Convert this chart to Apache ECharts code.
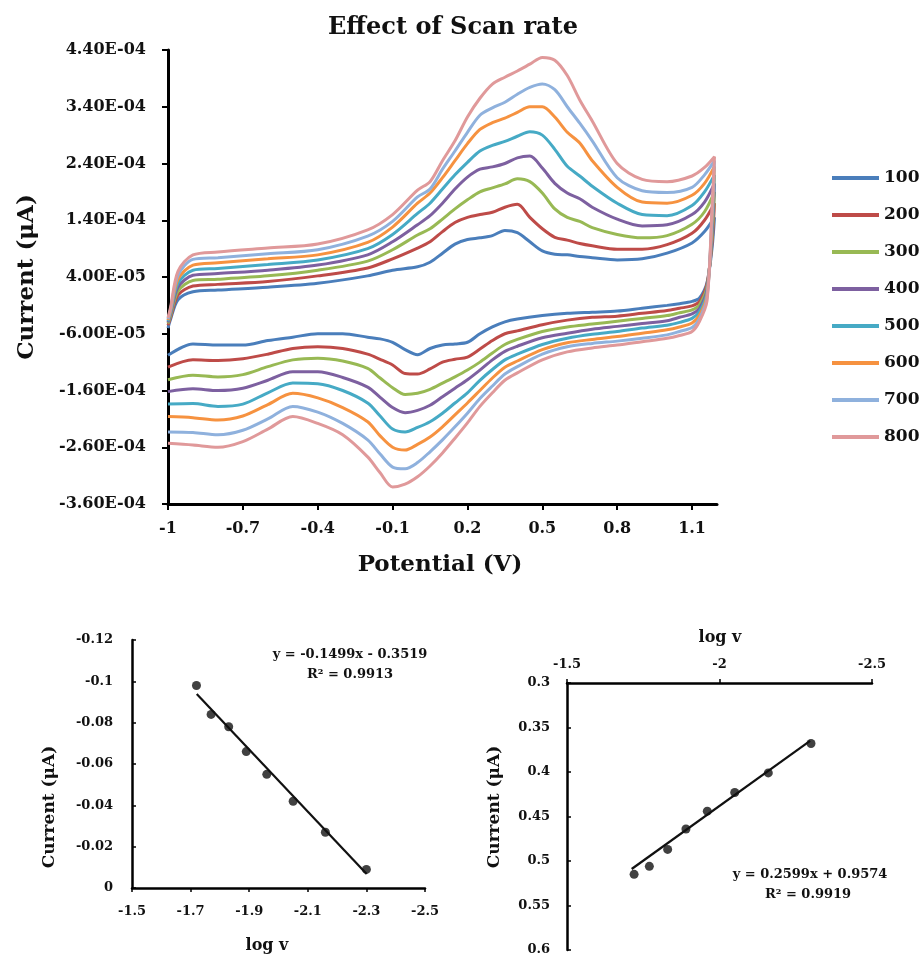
<!DOCTYPE html>
<html>
<head>
<meta charset="utf-8">
<script src="https://cdn.jsdelivr.net/npm/echarts@6/dist/echarts.min.js"></script>
<style>html,body{margin:0;padding:0;background:#fff}#c{width:920px;height:957px}</style>
</head>
<body>
<div id="c"></div>
<script>
// ---------- Main CV chart data (current in units of 1e-4 A) ----------
const scanRates = ['100', '200', '300', '400', '500', '600', '700', '800'];
const potentialForward = [-1, -0.99, -0.96, -0.9, -0.8, -0.6, -0.4, -0.2, -0.1, 0, 0.05, 0.1, 0.15, 0.2, 0.25, 0.3, 0.35, 0.4, 0.45, 0.5, 0.55, 0.6, 0.65, 0.7, 0.8, 0.9, 1.0, 1.1, 1.15, 1.19];
const potentialReverse = [1.18, 1.16, 1.13, 1.1, 1.05, 1.0, 0.9, 0.8, 0.7, 0.6, 0.5, 0.4, 0.35, 0.3, 0.25, 0.2, 0.15, 0.1, 0.05, 0, -0.05, -0.1, -0.15, -0.2, -0.3, -0.4, -0.5, -0.6, -0.7, -0.8, -0.9, -1];

const fwd100 = [-0.5, -0.35, 0.0, 0.14, 0.17, 0.22, 0.29, 0.42, 0.52, 0.58, 0.66, 0.82, 0.98, 1.06, 1.09, 1.13, 1.22, 1.18, 1.02, 0.86, 0.80, 0.79, 0.76, 0.74, 0.70, 0.72, 0.82, 1.0, 1.2, 1.45];
const fwd200 = [-0.45, -0.32, 0.08, 0.24, 0.27, 0.32, 0.42, 0.56, 0.72, 0.91, 1.02, 1.2, 1.36, 1.45, 1.50, 1.54, 1.63, 1.68, 1.45, 1.25, 1.10, 1.05, 0.99, 0.95, 0.89, 0.89, 0.97, 1.17, 1.40, 1.7];
const fwd300 = [-0.42, -0.29, 0.15, 0.34, 0.36, 0.42, 0.52, 0.68, 0.88, 1.14, 1.25, 1.42, 1.60, 1.76, 1.90, 1.97, 2.04, 2.13, 2.08, 1.88, 1.60, 1.45, 1.38, 1.27, 1.15, 1.09, 1.13, 1.33, 1.55, 1.9];
const fwd400 = [-0.4, -0.26, 0.22, 0.43, 0.46, 0.52, 0.61, 0.79, 1.02, 1.32, 1.48, 1.70, 1.95, 2.16, 2.30, 2.34, 2.40, 2.50, 2.53, 2.32, 2.05, 1.88, 1.78, 1.63, 1.42, 1.30, 1.32, 1.50, 1.72, 2.05];
const fwd500 = [-0.38, -0.23, 0.29, 0.52, 0.55, 0.62, 0.70, 0.90, 1.15, 1.52, 1.70, 1.95, 2.20, 2.42, 2.62, 2.72, 2.79, 2.88, 2.96, 2.90, 2.65, 2.35, 2.18, 2.0, 1.70, 1.50, 1.48, 1.66, 1.90, 2.2];
const fwd600 = [-0.36, -0.2, 0.36, 0.61, 0.65, 0.72, 0.79, 1.01, 1.28, 1.70, 1.88, 2.15, 2.45, 2.75, 3.0, 3.12, 3.20, 3.30, 3.40, 3.40, 3.22, 2.95, 2.76, 2.45, 1.98, 1.72, 1.70, 1.84, 2.05, 2.35];
const fwd700 = [-0.34, -0.17, 0.43, 0.71, 0.74, 0.81, 0.88, 1.12, 1.38, 1.81, 1.95, 2.30, 2.62, 2.95, 3.25, 3.38, 3.48, 3.62, 3.74, 3.80, 3.70, 3.40, 3.11, 2.80, 2.15, 1.92, 1.89, 1.98, 2.2, 2.45];
const fwd800 = [-0.32, -0.14, 0.5, 0.79, 0.84, 0.91, 0.98, 1.23, 1.50, 1.93, 2.08, 2.45, 2.80, 3.22, 3.55, 3.80, 3.92, 4.03, 4.15, 4.27, 4.22, 3.95, 3.52, 3.15, 2.40, 2.12, 2.08, 2.18, 2.33, 2.52];

const rev100 = [0.9, 0.3, 0.03, -0.03, -0.07, -0.10, -0.15, -0.20, -0.22, -0.24, -0.28, -0.34, -0.39, -0.48, -0.60, -0.75, -0.78, -0.80, -0.86, -0.97, -0.88, -0.75, -0.69, -0.66, -0.60, -0.60, -0.66, -0.72, -0.80, -0.80, -0.78, -0.98];
const rev200 = [1.0, 0.28, -0.03, -0.11, -0.15, -0.19, -0.24, -0.29, -0.31, -0.36, -0.44, -0.55, -0.60, -0.72, -0.87, -1.01, -1.05, -1.10, -1.22, -1.31, -1.30, -1.15, -1.05, -0.96, -0.86, -0.83, -0.86, -0.96, -1.04, -1.07, -1.06, -1.19];
const rev300 = [1.1, 0.23, -0.09, -0.18, -0.23, -0.28, -0.33, -0.38, -0.43, -0.48, -0.56, -0.70, -0.79, -0.94, -1.10, -1.24, -1.36, -1.47, -1.58, -1.65, -1.67, -1.55, -1.38, -1.21, -1.08, -1.03, -1.06, -1.18, -1.32, -1.36, -1.33, -1.41];
const rev400 = [1.2, 0.18, -0.15, -0.25, -0.31, -0.37, -0.42, -0.47, -0.52, -0.59, -0.67, -0.82, -0.91, -1.06, -1.24, -1.41, -1.56, -1.71, -1.86, -1.95, -1.99, -1.90, -1.72, -1.54, -1.37, -1.27, -1.27, -1.42, -1.56, -1.60, -1.57, -1.62];
const rev500 = [1.3, 0.13, -0.21, -0.33, -0.40, -0.45, -0.50, -0.56, -0.61, -0.68, -0.79, -0.96, -1.06, -1.23, -1.42, -1.64, -1.82, -2.0, -2.15, -2.25, -2.33, -2.28, -2.05, -1.82, -1.60, -1.48, -1.47, -1.64, -1.84, -1.88, -1.83, -1.84];
const rev600 = [1.4, 0.08, -0.27, -0.41, -0.48, -0.53, -0.59, -0.65, -0.70, -0.76, -0.88, -1.08, -1.19, -1.38, -1.60, -1.82, -2.03, -2.24, -2.42, -2.55, -2.65, -2.60, -2.40, -2.15, -1.90, -1.73, -1.65, -1.85, -2.05, -2.12, -2.08, -2.06];
const rev700 = [1.5, 0.03, -0.33, -0.49, -0.56, -0.62, -0.68, -0.73, -0.77, -0.83, -0.96, -1.18, -1.31, -1.52, -1.74, -2.0, -2.24, -2.47, -2.68, -2.87, -2.98, -2.95, -2.72, -2.47, -2.18, -1.98, -1.88, -2.10, -2.30, -2.38, -2.34, -2.33];
const rev800 = [1.6, -0.02, -0.38, -0.56, -0.63, -0.68, -0.74, -0.80, -0.85, -0.92, -1.06, -1.29, -1.42, -1.64, -1.88, -2.17, -2.44, -2.70, -2.93, -3.12, -3.25, -3.30, -3.05, -2.77, -2.38, -2.18, -2.06, -2.28, -2.50, -2.60, -2.56, -2.53];

const mainXTicks = [-1, -0.7, -0.4, -0.1, 0.2, 0.5, 0.8, 1.1];
const mainYTicks = [-3.6, -2.6, -1.6, -0.6, 0.4, 1.4, 2.4, 3.4, 4.4];

// ---------- Bottom-left plot data ----------
const logvLeft = [-1.72, -1.77, -1.83, -1.89, -1.96, -2.05, -2.16, -2.30];
const currentLeft = [-0.098, -0.084, -0.078, -0.066, -0.055, -0.042, -0.027, -0.009];
const trendLeftX = [-1.721, -2.301];
const trendLeftY = [-0.0939, -0.0068];
const leftXTicks = [-1.5, -1.7, -1.9, -2.1, -2.3, -2.5];
const leftYTicks = [-0.12, -0.1, -0.08, -0.06, -0.04, -0.02, 0];

// ---------- Bottom-right plot data ----------
const logvRight = [-1.72, -1.77, -1.83, -1.89, -1.96, -2.05, -2.16, -2.30];
const currentRight = [0.515, 0.506, 0.487, 0.464, 0.444, 0.423, 0.401, 0.368];
const trendRightX = [-1.712, -2.297];
const trendRightY = [0.509, 0.365];
const rightXTicks = [-1.5, -2, -2.5];
const rightYTicks = [0.3, 0.35, 0.4, 0.45, 0.5, 0.55, 0.6];

const seriesColors = ['#4A7EBB', '#BE4B48', '#98B954', '#7D60A0', '#46AAC5', '#F69240', '#8FB1DD', '#E0999A'];
const forwardCurrents = [fwd100, fwd200, fwd300, fwd400, fwd500, fwd600, fwd700, fwd800];
const reverseCurrents = [rev100, rev200, rev300, rev400, rev500, rev600, rev700, rev800];

const SERIF = '"DejaVu Serif", "Liberation Serif", serif';

function sci(v) {
  const n = v * 1e-4;
  const parts = n.toExponential(2).split('e');
  const e = parseInt(parts[1], 10);
  return parts[0] + 'E' + (e < 0 ? '-' : '+') + String(Math.abs(e)).padStart(2, '0');
}

const mainSeries = scanRates.map((r, i) => ({
  name: r,
  type: 'line',
  xAxisIndex: 0,
  yAxisIndex: 0,
  data: potentialForward.map((x, j) => [x, forwardCurrents[i][j]])
    .concat(potentialReverse.map((x, j) => [x, reverseCurrents[i][j]])),
  symbol: 'none',
  smooth: 0.3,
  lineStyle: { width: 3, color: seriesColors[i] },
  itemStyle: { color: seriesColors[i] }
}));

const axisLabelBase = { fontFamily: SERIF, fontWeight: 'bold', color: '#111' };

const option = {
  animation: false,
  backgroundColor: '#fff',
  grid: [
    { left: 168, top: 50, width: 549, height: 454 },
    { left: 132, top: 640, width: 293, height: 248 },
    { left: 567, top: 683, width: 305, height: 267 }
  ],
  legend: {
    orient: 'vertical',
    left: 827,
    top: 163,
    icon: 'rect',
    itemWidth: 47,
    itemHeight: 4,
    itemGap: 17,
    data: scanRates,
    textStyle: { fontFamily: SERIF, fontWeight: 'bold', fontSize: 17, color: '#111', lineHeight: 20 }
  },
  xAxis: [
    {
      gridIndex: 0, type: 'value', min: -1, max: 1.2,
      axisLine: { onZero: false, lineStyle: { color: '#000', width: 3 } },
      axisTick: { customValues: mainXTicks, length: 6, lineStyle: { color: '#000', width: 2 } },
      axisLabel: Object.assign({ customValues: mainXTicks, fontSize: 16, margin: 17,
        formatter: v => String(+v.toFixed(1)) }, axisLabelBase),
      splitLine: { show: false }
    },
    {
      gridIndex: 1, type: 'value', min: -2.5, max: -1.5, inverse: true,
      axisLine: { onZero: false, lineStyle: { color: '#000', width: 2.5 } },
      axisTick: { customValues: leftXTicks, length: 4, lineStyle: { color: '#000', width: 1.5 } },
      axisLabel: Object.assign({ customValues: leftXTicks, fontSize: 13, margin: 17,
        formatter: v => String(+v.toFixed(1)) }, axisLabelBase),
      splitLine: { show: false }
    },
    {
      gridIndex: 2, type: 'value', min: -2.5, max: -1.5, inverse: true, position: 'top',
      axisLine: { onZero: false, lineStyle: { color: '#000', width: 2.5 } },
      axisTick: { customValues: rightXTicks, length: 4, lineStyle: { color: '#000', width: 1.5 } },
      axisLabel: Object.assign({ customValues: rightXTicks, fontSize: 13, margin: 12,
        formatter: v => String(+v.toFixed(1)) }, axisLabelBase),
      splitLine: { show: false }
    }
  ],
  yAxis: [
    {
      gridIndex: 0, type: 'value', min: -3.6, max: 4.4,
      axisLine: { onZero: false, lineStyle: { color: '#000', width: 3 } },
      axisTick: { customValues: mainYTicks, length: 6, lineStyle: { color: '#000', width: 2 } },
      axisLabel: Object.assign({ customValues: mainYTicks, fontSize: 16, margin: 22, formatter: sci }, axisLabelBase),
      splitLine: { show: false }
    },
    {
      gridIndex: 1, type: 'value', min: -0.12, max: 0, inverse: true,
      axisLine: { onZero: false, lineStyle: { color: '#000', width: 2.5 } },
      axisTick: { customValues: leftYTicks, inside: true, length: 4, lineStyle: { color: '#000', width: 1.5 } },
      axisLabel: Object.assign({ customValues: leftYTicks, fontSize: 13, margin: 19,
        formatter: v => String(+v.toFixed(2)) }, axisLabelBase),
      splitLine: { show: false }
    },
    {
      gridIndex: 2, type: 'value', min: 0.3, max: 0.6, inverse: true,
      axisLine: { onZero: false, lineStyle: { color: '#000', width: 2.5 } },
      axisTick: { customValues: rightYTicks, inside: true, length: 4, lineStyle: { color: '#000', width: 1.5 } },
      axisLabel: Object.assign({ customValues: rightYTicks, fontSize: 13, margin: 17,
        formatter: v => String(+v.toFixed(2)) }, axisLabelBase),
      splitLine: { show: false }
    }
  ],
  graphic: [
    { type: 'text', x: 453, y: 28, style: { text: 'Effect of Scan rate', font: 'bold 24px ' + SERIF, align: 'center', verticalAlign: 'middle', fill: '#111' } },
    { type: 'text', x: 27, y: 277, rotation: Math.PI / 2, style: { text: 'Current (μA)', font: 'bold 23px ' + SERIF, align: 'center', verticalAlign: 'middle', fill: '#111' } },
    { type: 'text', x: 440, y: 565, style: { text: 'Potential (V)', font: 'bold 23px ' + SERIF, align: 'center', verticalAlign: 'middle', fill: '#111' } },
    { type: 'text', x: 50, y: 807, rotation: Math.PI / 2, style: { text: 'Current (μA)', font: 'bold 17px ' + SERIF, align: 'center', verticalAlign: 'middle', fill: '#111' } },
    { type: 'text', x: 267, y: 946, style: { text: 'log v', font: 'bold 16px ' + SERIF, align: 'center', verticalAlign: 'middle', fill: '#111' } },
    { type: 'text', x: 350, y: 655, style: { text: 'y = -0.1499x - 0.3519', font: 'bold 13px ' + SERIF, align: 'center', verticalAlign: 'middle', fill: '#111' } },
    { type: 'text', x: 350, y: 675, style: { text: 'R² = 0.9913', font: 'bold 13px ' + SERIF, align: 'center', verticalAlign: 'middle', fill: '#111' } },
    { type: 'text', x: 495, y: 807, rotation: Math.PI / 2, style: { text: 'Current (μA)', font: 'bold 17px ' + SERIF, align: 'center', verticalAlign: 'middle', fill: '#111' } },
    { type: 'text', x: 720, y: 638, style: { text: 'log v', font: 'bold 16px ' + SERIF, align: 'center', verticalAlign: 'middle', fill: '#111' } },
    { type: 'text', x: 810, y: 875, style: { text: 'y = 0.2599x + 0.9574', font: 'bold 13px ' + SERIF, align: 'center', verticalAlign: 'middle', fill: '#111' } },
    { type: 'text', x: 808, y: 895, style: { text: 'R² = 0.9919', font: 'bold 13px ' + SERIF, align: 'center', verticalAlign: 'middle', fill: '#111' } }
  ],
  series: mainSeries.concat([
    {
      name: 'peakLeft', type: 'scatter', xAxisIndex: 1, yAxisIndex: 1,
      data: logvLeft.map((x, i) => [x, currentLeft[i]]),
      symbolSize: 9, itemStyle: { color: '#111' }
    },
    {
      name: 'trendLeft', type: 'line', xAxisIndex: 1, yAxisIndex: 1,
      data: trendLeftX.map((x, i) => [x, trendLeftY[i]]),
      symbol: 'none', lineStyle: { color: '#111', width: 2.2 }
    },
    {
      name: 'peakRight', type: 'scatter', xAxisIndex: 2, yAxisIndex: 2,
      data: logvRight.map((x, i) => [x, currentRight[i]]),
      symbolSize: 9, itemStyle: { color: '#111' }
    },
    {
      name: 'trendRight', type: 'line', xAxisIndex: 2, yAxisIndex: 2,
      data: trendRightX.map((x, i) => [x, trendRightY[i]]),
      symbol: 'none', lineStyle: { color: '#111', width: 2.2 }
    }
  ])
};

const chart = echarts.init(document.getElementById('c'), null, { renderer: 'canvas' });
chart.setOption(option);
</script>
</body>
</html>
